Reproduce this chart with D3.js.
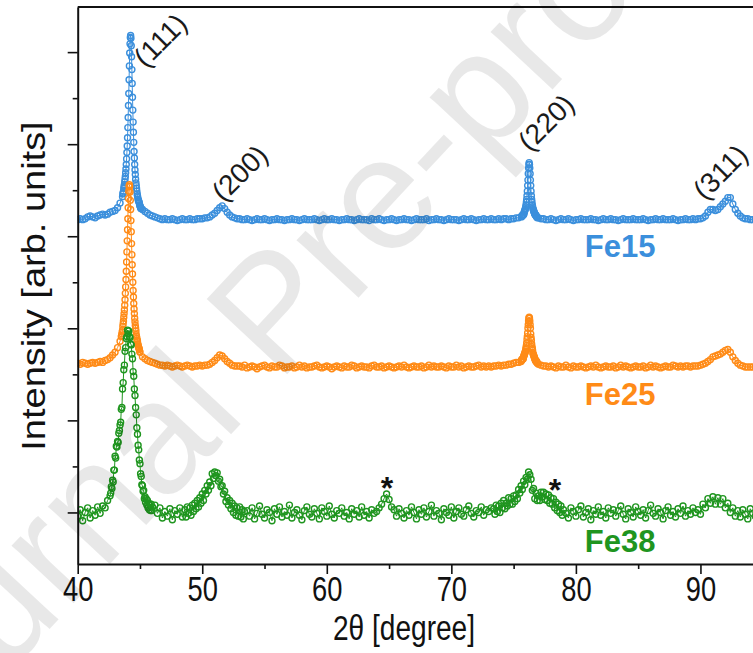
<!DOCTYPE html>
<html lang="en">
<head>
<meta charset="UTF-8">
<title>XRD Fe15 Fe25 Fe38</title>
<script src="https://d3js.org/d3.v7.min.js"></script>
<style>
  body { margin: 0; background: #fff; }
  text { font-family: "Liberation Sans", Arial, sans-serif; }
</style>
</head>
<body>
<div id="chart"></div>
<script>
// each scan is a list of segments: [start 2theta, step, intensities (arb.)]
var fe15 = [
  [40.0, 0.2, [40,41,40,41,43,44,43,42,44,45,46,45,46,48,49,50,53,58,65]],
  [43.625, 0.025, [68,69,71,74,76,78,81,84,87,91,95,100,106,113,120,129,140,151,164,177,192,207,221,231,238,240,
                   237,229,217,203,188,173,159,146,135,124,114,107,100,94,89,84,80,77,74,71,68,66,64,62,61,60,59,58,56,55,54,53,52,52]],
  [45.2, 0.2, [51,49,47,45,44,43,42]],
  [46.6, 0.2, [41,40,41,40,40,41,40,39,40,41,40,40,41,40,40,41,41,41,42]],
  [50.4, 0.2, [42,43,45,47,50,53,55,52,48,45,43,42,41]],
  [53.0, 0.2, [41,40,40,41,40,39,40,41,40,40,41,40,39,40,40,41,40,40,39,40]],
  [57.0, 0.2, [40,41,40,40,39,40,41,40,40,40,41,40,39,40,41,40,40,41,40,40]],
  [61.0, 0.2, [39,40,40,41,40,40,39,40,41,40,40,40,39,41,40,40,41,40,39,40]],
  [65.0, 0.2, [40,41,40,39,40,40,41,40,40,39,40,41,40,40,40,41,39,40,40,41]],
  [69.0, 0.2, [40,40,39,40,41,40,40,40,39,40,41,40,40,41,40,39,40,40,41,40]],
  [73.0, 0.2, [40,41,40,40,41,40,41,41,40,41,41,42,42]],
  [75.625, 0.025, [43,44,44,44,45,45,45,46,46,48,49,50,51,52,54,56,59,62,66,71,77,83,90,96,100,102,
                   100,96,90,83,77,71,66,62,59,56,54,52,51,50,49,48,47,46,46,45,45,44,44,43,43,42]],
  [77.0, 0.2, [42,41,41,40,40,41,40,39,40,41,40,40,41,40,39,40,40,41,40,40]],
  [81.0, 0.2, [40,41,40,40,39,40,41,40,40,41,40,40,39,40,41,40,40,40,41,40]],
  [85.0, 0.2, [40,40,41,40,39,40,40,41,40,40,41,40,40,40,41,40,39,40,40,41]],
  [89.0, 0.2, [40,40,41,40,41,41,42,44,48,51,51,50,51,54,57,60,64,64,57,51,47,44,42,41,41,40,40,40]]
];

var fe25 = [
  [40.0, 0.2, [44,43,45,44,43,44,45,44,45,46,45,47,48,50,53,56,61,68]],
  [43.5, 0.025, [73,74,76,78,80,84,87,90,94,98,102,107,113,120,127,135,144,154,165,177,189,201,213,223,231,236,238,
                 236,230,221,211,199,187,174,162,151,141,132,123,116,109,103,98,93,89,85,82,79,75,73,71,69,68,65,64,62,61,60,59,57,56]],
  [45.2, 0.2, [51,49,47,46,45,44,43]],
  [46.6, 0.2, [42,42,41,42,41,40,41,42,41,40,41,42,41,40,41,41,42,41,42]],
  [50.4, 0.2, [42,43,45,47,50,53,52,49,46,44,42,41,41]],
  [53.0, 0.2, [41,40,42,39,40,41,40,38,40,41,42,40,39,41,40,40,42,41,39,40]],
  [57.0, 0.2, [40,41,39,40,42,40,41,39,40,40,41,42,40,39,40,41,40,38,40,41]],
  [61.0, 0.2, [40,39,41,40,40,42,41,39,40,41,40,40,39,41,42,40,40,41,39,40]],
  [65.0, 0.2, [41,40,39,40,41,40,42,40,39,40,41,40,40,41,39,40,42,40,41,40]],
  [69.0, 0.2, [40,41,40,39,41,40,40,42,40,41,39,40,41,40,40,41,42,40,41,40]],
  [73.0, 0.2, [41,40,41,41,42,41,42,42,43,43,44,45,45,46]],
  [75.625, 0.025, [47,48,48,48,49,49,49,51,52,53,54,55,56,57,59,61,63,66,70,73,77,82,86,90,93,94,
                   93,90,86,82,76,72,69,65,62,60,58,55,54,53,52,51,50,49,48,47,47,46,46,46,45,44]],
  [77.0, 0.2, [43,42,41,41,40,41,40,39,41,40,40,42,40,39,41,40,40,41,40,39]],
  [81.0, 0.2, [40,41,40,42,40,39,40,41,40,40,41,39,40,42,40,41,40,39,40,41]],
  [85.0, 0.2, [40,40,41,39,40,42,40,41,40,39,40,41,40,40,42,41,40,41,40,41,41,40,41,41]],
  [89.8, 0.2, [41,42,43,44,46,48,51,52,53,54,56,58,59,56,51,47,44,42,41,40,40,40,40,40]]
];

var fe38 = [
  [40.0, 0.2, [38,45,33,42,47,36,44,39,48,41,49,47,55]],
  [42.6, 0.05, [60,63,70,68,77,75,88,88,103,101,114,113,119,118,128,131,137,140,154,156,176,183,197,202,217,221,231,233,
                240,236,239,233,232,225,224,214,209,195,190,176,169,156,148,134,127,115,110,99,95,84,81,72,71,65,66,57,59,53,57,50,55,47,52,45,50,44,51,44,48]],
  [46.2, 0.2, [50,41,47,36,43,38,46,34,44,40,47,37]],
  [48.6, 0.1, [45,37,48,41,47,39,50,43,52,46,55,48,58,52,62,55,66,62,71,66,75,71,84,79,86,82,85,76,78,70,71,62,65,54,58,50,55,46,52,42,49,39,47,38,48,37,45,35,43]],
  [53.6, 0.2, [44,38,47,35,41,49,40,36,45,42,33,46,40,48,37,43,39,50,36,42]],
  [57.6, 0.2, [45,39,34,44,48,40,37,46,41,35,47,43,38,49,40,36,44,41,47,38]],
  [61.6, 0.2, [42,35,46,40,44,37,48,39,43,36,45,41]],
  [64.0, 0.2, [43,47,51,57,62,56,48,45,38]],
  [65.8, 0.2, [46,41,36,44,39,48,42,35,45,40,47,37,43,50,38,44,41,34,46,42]],
  [69.8, 0.2, [39,48,36,43,47,40,38,45,49,41,37,44,42,48,39,45,43,47]],
  [73.4, 0.1, [46,40,50,43,49,42,52,47,55,46,52,49,58,51,57,51,60,54,61,57,67,63,71,67,76,72,80,78,86,83,
               78,66,68,57,63,55,60,55,64,59,64,56,62,55,61,52,58,51,57,47,53,44,51,42,49,39,45]],
  [79.2, 0.2, [41,36,47,43,38,45,49,37,42,46,34,44,40,48,39,43,36,47,41,45]],
  [83.2, 0.2, [38,44,49,40,35,46,42,37,48,43,39,45,36,44,50,41,38,46,42,35]],
  [87.2, 0.2, [44,48,39,43,37,46,41,49,38,44,40,47,42]],
  [89.8, 0.2, [45,40,51,47,57,52,59,51,58,51,57,47,52,42,47,38,44,37,45,40,35,46,41,38]]
];

var scans = [fe15, fe25, fe38];
var sampleNames = ["Fe15", "Fe25", "Fe38"];
var sampleColors = ["#3b8fdc", "#ff8b17", "#1f951f"];
var stackOffsets = [278, 118, -42];

var xTicks = [40, 50, 60, 70, 80, 90];
var xMinorTicks = [45, 55, 65, 75, 85];
var yTicks = [0, 100, 200, 300, 400, 500];
var yMinorTicks = [50, 150, 250, 350, 450];

// reflection labels: [text, 2theta, level]
var peakLabels = [["(111)", 45.45, 482], ["(200)", 51.7, 336], ["(220)", 76.3, 391], ["(311)", 90.35, 338]];
// impurity marks: [2theta, level]
var starMarks = [[64.84, 15], [78.32, 12]];
var sampleLabelAngle = 83.55;

var W = 753, H = 653;
var plotLeft = 77.7, plotTop = 7, plotBottom = 564;
var narrow = "scale(0.78,1)";

var svg = d3.select("#chart").append("svg")
    .attr("width", W)
    .attr("height", H);

var x = d3.scaleLinear().domain([40, 94.22]).range([plotLeft, W]);
var y = d3.scaleLinear().domain([-56, 549]).range([plotBottom, plotTop]);

svg.append("clipPath").attr("id", "plotclip")
  .append("rect")
    .attr("x", plotLeft).attr("y", 0)
    .attr("width", W - plotLeft).attr("height", plotBottom);

function expand(segs, shift) {
    var pts = [];
    segs.forEach(function(s) {
        s[2].forEach(function(v, i) {
            pts.push({a: s[0] + i * s[1], v: v + shift});
        });
    });
    return pts;
}

var line = d3.line()
    .x(function(d) { return x(d.a); })
    .y(function(d) { return y(d.v); });

var plot = svg.append("g").attr("clip-path", "url(#plotclip)");

scans.forEach(function(segs, k) {
    var pts = expand(segs, stackOffsets[k]);
    var g = plot.append("g");
    g.append("path")
        .datum(pts)
        .attr("fill", "none")
        .attr("stroke", sampleColors[k])
        .attr("stroke-width", 1)
        .attr("d", line);
    g.selectAll("circle")
        .data(pts)
        .join("circle")
        .attr("cx", function(d) { return x(d.a); })
        .attr("cy", function(d) { return y(d.v); })
        .attr("r", 3)
        .attr("fill", "none")
        .attr("stroke", sampleColors[k])
        .attr("stroke-width", 1.4);
});

// axes
var xAxis = svg.append("g")
    .attr("transform", "translate(0," + plotBottom + ")")
    .call(d3.axisBottom(x).tickValues(xTicks).tickSize(10).tickSizeOuter(0).tickPadding(2));
xAxis.selectAll("text")
    .attr("font-size", 35)
    .attr("fill", "#111")
    .attr("transform", narrow);
svg.append("g")
    .attr("transform", "translate(0," + plotBottom + ")")
    .call(d3.axisBottom(x).tickValues(xMinorTicks).tickSize(5).tickFormat(""))
    .select(".domain").remove();

svg.append("g")
    .attr("transform", "translate(" + plotLeft + ",0)")
    .call(d3.axisLeft(y).tickValues(yTicks).tickSize(10).tickSizeOuter(0).tickFormat(""));
svg.append("g")
    .attr("transform", "translate(" + plotLeft + ",0)")
    .call(d3.axisLeft(y).tickValues(yMinorTicks).tickSize(5).tickFormat(""))
    .select(".domain").remove();

svg.selectAll(".domain").attr("stroke", "#111").attr("stroke-width", 2);
svg.selectAll(".tick line").attr("stroke", "#111").attr("stroke-width", 1.6);

// top frame
svg.append("line")
    .attr("x1", plotLeft).attr("x2", W)
    .attr("y1", y(549)).attr("y2", y(549))
    .attr("stroke", "#111").attr("stroke-width", 2);

// axis titles
svg.append("text")
    .attr("transform", "translate(404,640) " + narrow)
    .attr("text-anchor", "middle")
    .attr("font-size", 36)
    .attr("fill", "#111")
    .text("2\u03b8 [degree]");

svg.append("text")
    .attr("transform", "translate(45,286) scale(0.85,1) rotate(-90)")
    .attr("text-anchor", "middle")
    .attr("font-size", 38)
    .attr("fill", "#111")
    .text("Intensity [arb. units]");

// sample names
sampleNames.forEach(function(name, k) {
    svg.append("text")
        .attr("x", x(sampleLabelAngle))
        .attr("y", y(stackOffsets[k] - 1))
        .attr("text-anchor", "middle")
        .attr("font-size", 31)
        .attr("font-weight", "bold")
        .attr("fill", sampleColors[k])
        .text(name);
});

// reflections
peakLabels.forEach(function(p) {
    svg.append("text")
        .attr("transform", "translate(" + x(p[1]) + "," + y(p[2]) + ") rotate(-45)")
        .attr("font-size", 28)
        .attr("fill", "#1a1a1a")
        .text(p[0]);
});

starMarks.forEach(function(s) {
    svg.append("text")
        .attr("x", x(s[0])).attr("y", y(s[1]))
        .attr("text-anchor", "middle")
        .attr("font-size", 32)
        .attr("font-weight", "bold")
        .attr("fill", "#111")
        .text("*");
});

// watermark
svg.append("text")
    .attr("transform", "translate(-110,800) rotate(-47)")
    .attr("font-size", 160)
    .attr("fill", "#000")
    .attr("fill-opacity", 0.09)
    .text("Journal Pre-proof");
</script>
</body>
</html>
